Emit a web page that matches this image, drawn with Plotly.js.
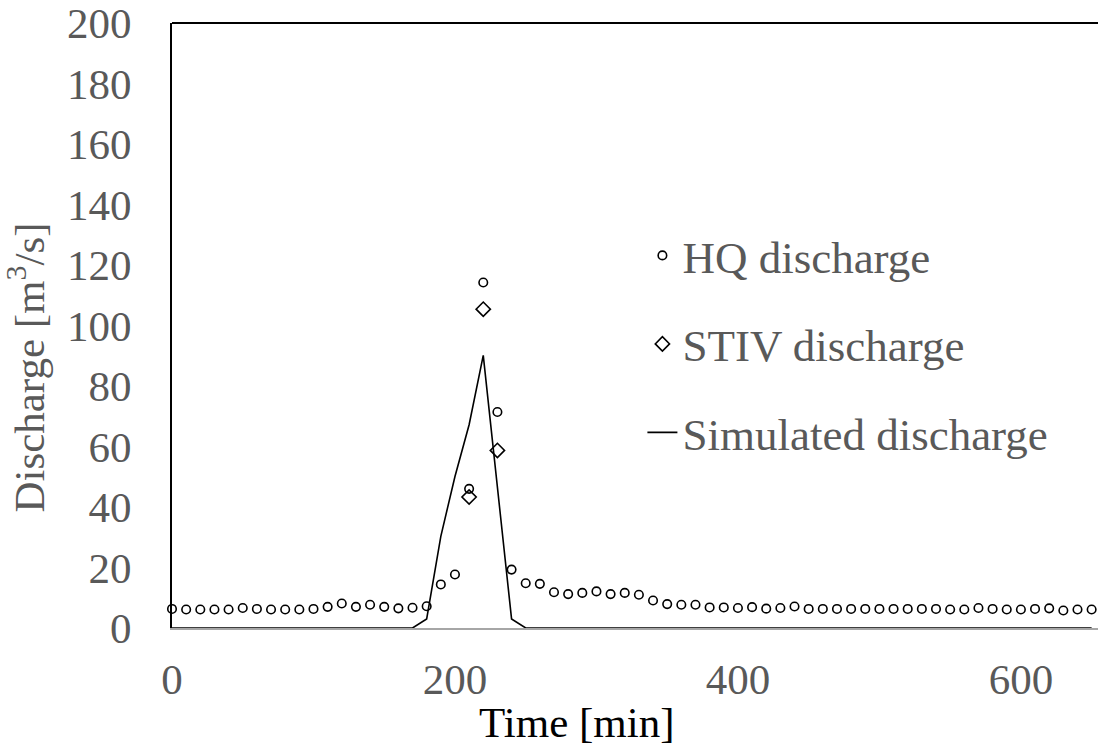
<!DOCTYPE html>
<html>
<head>
<meta charset="utf-8">
<script src="https://cdn.plot.ly/plotly-3.0.1.min.js"></script>
<style>
  html, body { margin: 0; padding: 0; background: #ffffff; }
  #chart { width: 1098px; height: 752px; }
</style>
</head>
<body>
<div id="chart"></div>
<script>
// Time [min] for HQ discharge observations
const hqTime = [0,10,20,30,40,50,60,70,80,90,100,110,120,130,140,150,160,170,180,190,
  200,210,220,230,240,250,260,270,280,290,300,310,320,330,340,350,360,370,380,390,
  400,410,420,430,440,450,460,470,480,490,500,510,520,530,540,550,560,570,580,590,
  600,610,620,630,640,650];
// HQ discharge [m3/s]
const hqDischarge = [6.3,6.1,6.1,6.1,6.1,6.6,6.3,6.1,6.1,6.1,6.3,7.0,8.1,7.0,7.7,7.0,6.5,6.7,7.2,14.4,
  17.7,46.0,114.2,71.4,19.3,14.8,14.6,11.8,11.2,11.6,12.1,11.2,11.6,11.0,9.1,7.9,7.7,7.7,6.8,6.8,
  6.6,6.9,6.4,6.6,7.1,6.3,6.3,6.3,6.3,6.3,6.3,6.3,6.3,6.3,6.3,6.1,6.1,6.6,6.3,6.1,
  6.1,6.3,6.5,5.8,6.1,6.1];

// STIV discharge
const stivTime = [210,220,230];
const stivDischarge = [43.3,105.4,58.7];

// Simulated discharge
const simTime = [0,170,180,190,200,210,220,230,240,250,650];
const simDischarge = [0,0,3.0,30.3,50.1,67.2,90.1,46.5,3.0,0,0];

// Axis ticks
const xTicks = [0,200,400,600];
const yTicks = [0,20,40,60,80,100,120,140,160,180,200];

const serif = '"Liberation Serif", "Times New Roman", Times, serif';
const gray = '#595959';

const traces = [
  {
    type: 'scatter', mode: 'markers', name: 'HQ discharge',
    x: hqTime, y: hqDischarge, legendgroup: 'a',
    marker: { symbol: 'circle-open', size: 8.5, color: '#000', line: { width: 1.6, color: '#000' } },
    cliponaxis: false
  },
  {
    type: 'scatter', mode: 'markers', name: 'STIV discharge',
    x: stivTime, y: stivDischarge, legendgroup: 'b',
    marker: { symbol: 'diamond-open', size: 11, color: '#000', line: { width: 1.6, color: '#000' } },
    cliponaxis: false
  },
  {
    type: 'scatter', mode: 'lines', name: 'Simulated discharge',
    x: simTime, y: simDischarge, legendgroup: 'c',
    line: { color: '#000', width: 1.6 },
    cliponaxis: false
  }
];

const layout = {
  width: 1098, height: 752,
  paper_bgcolor: '#fff', plot_bgcolor: '#fff',
  margin: { l: 172, r: 0, t: 23, b: 124 },
  showlegend: true,
  font: { family: serif, color: gray, size: 43 },
  xaxis: {
    range: [0, 654.5], tickvals: xTicks, ticktext: xTicks.map(String),
    showgrid: false, zeroline: false, showline: true, linecolor: '#a6a6a6', linewidth: 2,
    ticks: '', ticklabelstandoff: 12, layer: 'below traces',
    tickfont: { family: serif, size: 43, color: gray }
  },
  yaxis: {
    range: [0, 200], tickvals: yTicks, ticktext: yTicks.map(String),
    showgrid: false, zeroline: false, showline: true, linecolor: '#000', linewidth: 2,
    ticks: '', ticklabelstandoff: 30, layer: 'below traces',
    tickfont: { family: serif, size: 43, color: gray }
  },
  legend: {
    x: 0.508, xanchor: 'left', y: 0.675, yanchor: 'top',
    bgcolor: 'rgba(0,0,0,0)', borderwidth: 0,
    font: { family: serif, size: 45, color: gray },
    tracegroupgap: 27, traceorder: 'grouped'
  },
  shapes: [
    { type: 'line', xref: 'paper', yref: 'paper', x0: 0, x1: 1, y0: 1, y1: 1,
      line: { color: '#000', width: 2 } }
  ],
  annotations: [
    { text: 'Discharge [m<sup>3</sup>/s]', xref: 'paper', yref: 'paper',
      x: -0.158, y: 0.43, xanchor: 'center', yanchor: 'middle', textangle: -90,
      showarrow: false, font: { family: serif, size: 43, color: gray } },
    { text: 'Time [min]', xref: 'paper', yref: 'paper',
      x: 0.437, y: -0.1565, xanchor: 'center', yanchor: 'middle',
      showarrow: false, font: { family: serif, size: 43, color: '#000' } }
  ]
};

Plotly.newPlot('chart', traces, layout, { displayModeBar: false, staticPlot: true });
</script>
</body>
</html>
